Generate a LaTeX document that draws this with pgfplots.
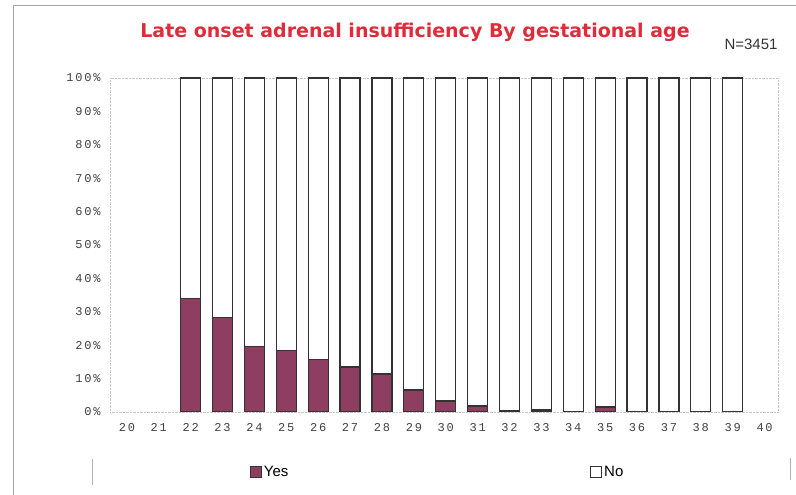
\documentclass[border=0pt]{standalone}
\usepackage{pgfplots}
\pgfplotsset{compat=1.18}
\usepackage{fontspec}
\setmainfont{Liberation Sans}
\newfontfamily\monofont[LetterSpace=15]{Liberation Mono}
\newfontfamily\titlefont{DejaVu Sans}
\definecolor{yescol}{RGB}{142,62,96}
\definecolor{titlered}{RGB}{222,44,58}

\begin{document}
\begin{tikzpicture}[x=1pt,y=1pt]
\path[use as bounding box] (0,0) rectangle (796,495);
% outer frame
\draw[gray!70, line width=0.8pt] (13,0) -- (13,490) -- (796,490);
\draw[gray!60, line width=0.6pt] (92,10) -- (92,36);
\draw[gray!60, line width=0.6pt] (790,15) -- (790,37);

\node[font=\titlefont\bfseries\fontsize{19}{22}\selectfont, text=titlered] at (415,463)
  {Late onset adrenal insufficiency By gestational age};
\node[font=\fontsize{15}{17}\selectfont, text=black!80] at (751,451) {N=3451};

\begin{axis}[
  at={(110pt,83pt)}, anchor=south west,
  width=668pt, height=334pt, scale only axis,
  ybar stacked, bar width=20pt,
  xmin=19.47, xmax=40.42,
  ymin=0, ymax=100,
  xtick={20,...,40},
  xticklabels={20,21,22,23,24,25,26,27,28,29,30,31,32,33,34,35,36,37,38,39,40},
  ytick={0,10,...,100},
  yticklabels={0\%,10\%,20\%,30\%,40\%,50\%,60\%,70\%,80\%,90\%,100\%},
  ticklabel style={font=\monofont\fontsize{12}{13}\selectfont, text=black!75},
  xticklabel style={yshift=-8pt},
  yticklabel style={xshift=-6pt},
  major tick length=0pt,
  axis line style={gray!45, densely dotted},
  legend columns=2,
  legend style={draw=none, fill=none, at={(0.205,-0.18)}, anchor=west,
    font=\fontsize{15}{17}\selectfont, /tikz/every even column/.append style={column sep=300pt}},
  legend image code/.code={\draw[#1, line width=0.8pt] (0pt,-5.5pt) rectangle (11pt,5.5pt);},
]
\addplot[fill=yescol, draw=black!80, line width=1.2pt] coordinates {
  (22,34.1) (23,28.4) (24,19.5) (25,18.3) (26,15.6) (27,13.5) (28,11.4)
  (29,6.6) (30,3.3) (31,1.8) (32,0.3) (33,0.6) (34,0) (35,1.5)
  (36,0) (37,0) (38,0) (39,0)};
\addplot[fill=white, draw=black!80, line width=1.2pt] coordinates {
  (22,65.9) (23,71.6) (24,80.5) (25,81.7) (26,84.4) (27,86.5) (28,88.6)
  (29,93.4) (30,96.7) (31,98.2) (32,99.7) (33,99.4) (34,100) (35,98.5)
  (36,100) (37,100) (38,100) (39,100)};
\legend{Yes, No}
\end{axis}
\end{tikzpicture}
\end{document}
